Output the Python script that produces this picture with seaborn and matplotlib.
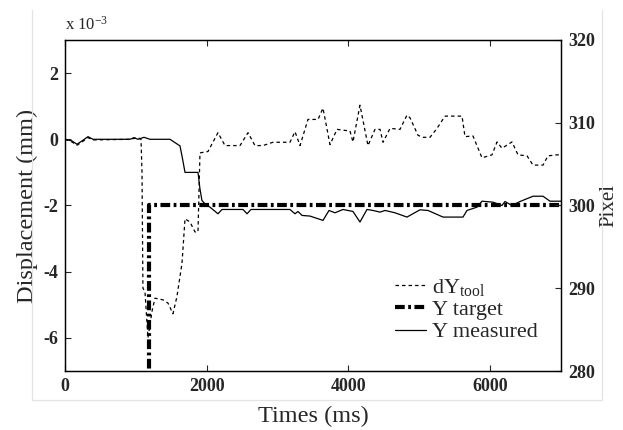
"""
Displacement / pixel response of the tool, dY vs target vs measured.
"""
import numpy as np
import matplotlib.pyplot as plt
from matplotlib.lines import Line2D
import seaborn as sns
import pandas as pd

sns.set_style('ticks')
plt.rcParams['font.family'] = ['Liberation Serif', 'DejaVu Serif']
plt.rcParams['mathtext.fontset'] = 'custom'
plt.rcParams['mathtext.rm'] = 'Liberation Serif'
plt.rcParams['mathtext.it'] = 'Liberation Serif'
plt.rcParams['mathtext.bf'] = 'Liberation Serif:bold'
plt.rcParams['axes.unicode_minus'] = False
plt.rcParams['lines.scale_dashes'] = False

# displacement values in units of 1e-3 mm
t_dy = [0, 99, 169, 240, 325, 395, 917, 1030, 1073, 1087, 1100, 1129, 1171,
        1228, 1270, 1383, 1454, 1524, 1580, 1651, 1694, 1764, 1835, 1877, 1905,
        2018, 2159, 2258, 2470, 2583, 2681, 2794, 2935, 3175, 3246, 3317, 3429,
        3571, 3641, 3740, 3839, 4022, 4064, 4163, 4276, 4375, 4446, 4488, 4587,
        4728, 4826, 4869, 4982, 5052, 5151, 5250, 5363, 5603, 5645, 5758, 5885,
        6026, 6097, 6167, 6308, 6393, 6520, 6605, 6746, 6816, 6943, 7000]
dy_tool = [0.0, -0.08, -0.18, -0.08, 0.05, -0.02, 0.0, 0.05, 0.0, -1.0, -4.5,
           -4.6, -6.0, -5.2, -4.8, -4.85, -4.95, -5.27, -4.75, -3.75, -2.4,
           -2.5, -2.8, -2.8, -0.41, -0.37, 0.2, -0.19, -0.19, 0.2, -0.19,
           -0.19, -0.09, -0.09, 0.23, -0.19, 0.6, 0.6, 0.94, -0.16, 0.3, 0.25,
           -0.08, 1.03, -0.19, 0.3, 0.3, -0.09, 0.33, 0.3, 0.73, 0.65, 0.12,
           0.06, 0.06, 0.33, 0.7, 0.7, 0.08, 0.1, -0.56, -0.47, -0.08, -0.27,
           -0.08, -0.47, -0.5, -0.78, -0.78, -0.5, -0.47, -0.47]

t_target = [1180, 1180, 7000]
y_target = [-7.5, -2.0, -2.0]

t_meas = [0, 99, 169, 240, 325, 395, 917, 974, 1030, 1115, 1200, 1482, 1623,
          1651, 1694, 1877, 1905, 1933, 1976, 2046, 2103, 2159, 2216, 2512,
          2569, 2625, 3175, 3246, 3288, 3345, 3458, 3641, 3726, 3810, 3923,
          4064, 4163, 4262, 4347, 4446, 4516, 4657, 4826, 5010, 5123, 5335,
          5617, 5673, 5814, 5885, 6040, 6167, 6209, 6308, 6421, 6605, 6746,
          6845, 7000]
y_meas = [0.0, -0.05, -0.15, -0.05, 0.08, 0.0, 0.0, 0.05, 0.0, 0.06, 0.0, 0.0,
          -0.2, -0.5, -1.0, -1.0, -1.5, -1.85, -1.95, -2.05, -2.15, -2.25,
          -2.12, -2.12, -2.25, -2.12, -2.12, -2.25, -2.18, -2.3, -2.32, -2.45,
          -2.15, -2.22, -2.12, -2.18, -2.5, -2.12, -2.15, -2.2, -2.15, -2.22,
          -2.35, -2.13, -2.15, -2.35, -2.35, -2.15, -2.05, -1.87, -1.9, -2.0,
          -1.88, -2.0, -1.88, -1.72, -1.72, -1.87, -1.87]

fig = plt.figure(figsize=(6.23, 4.3), dpi=100)
ax = fig.add_axes([0.1043, 0.1372, 0.7962, 0.7698])

sns.lineplot(x=t_dy, y=dy_tool, ax=ax, color='k', lw=0.9, estimator=None,
             sort=False, linestyle=(0, (2.5, 2.2)), label='dY$_{\\mathrm{tool}}$')
sns.lineplot(x=t_target, y=y_target, ax=ax, color='k', lw=3, estimator=None,
             sort=False, linestyle=(0, (7, 2.5, 2, 2.5)), label='Y target')
sns.lineplot(x=t_meas, y=y_meas, ax=ax, color='k', lw=0.9, estimator=None,
             sort=False, label='Y measured')

ax.set_xlim(0, 7000)
ax.set_ylim(-7, 3)
ax.set_xticks([0, 2000, 4000, 6000])
ax.set_yticks([-6, -4, -2, 0, 2])
ax.tick_params(direction='in', top=True, right=True, labelsize=13, length=4,
               pad=5)
for lab in ax.get_xticklabels() + ax.get_yticklabels():
    lab.set_fontweight('bold')
ax.set_xlabel('Times (ms)', fontsize=17.5, labelpad=8)
ax.set_ylabel('Displacement (mm)', fontsize=17.5, labelpad=4)
ax.text(0.0, 1.02, 'x 10$^{-3}$', transform=ax.transAxes, fontsize=12,
        ha='left', va='bottom')

ax2 = ax.twinx()
ax2.set_ylim(280, 320)
ax2.set_yticks([280, 290, 300, 310, 320])
ax2.tick_params(direction='in', labelsize=13, length=4, left=False, pad=5)
for lab in ax2.get_yticklabels():
    lab.set_fontweight('bold')
ax2.set_ylabel('Pixel', fontsize=15, labelpad=3)

for a in (ax, ax2):
    for s in a.spines.values():
        s.set_linewidth(0.9)
        s.set_color('k')

ax.legend(loc='upper left', bbox_to_anchor=(0.665, 0.285), frameon=False,
          fontsize=16, handlelength=1.4, handletextpad=0.25, labelspacing=0.08,
          borderpad=0, borderaxespad=0)

# light grey frame of the original picture (left, bottom, right sides)
xl, xr = 32 / 623, 602 / 623
yb, yt = 1 - 400 / 430, 1 - 10 / 430
fig.add_artist(Line2D([xl, xl, xr, xr], [yt, yb, yb, yt],
                      transform=fig.transFigure, color='#e3e3e3', lw=0.9))

fig.savefig('out.png', dpi=100)
